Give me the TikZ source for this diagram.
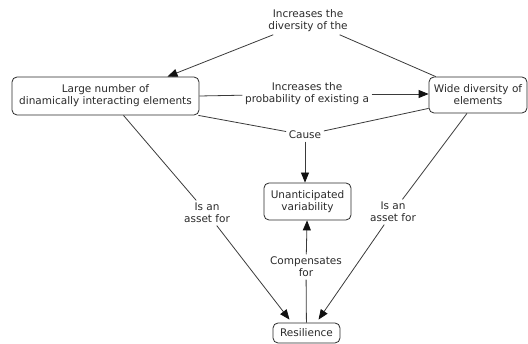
\documentclass[tikz,border=0pt]{standalone}
\usepackage{fontspec}
\setmainfont{DejaVu Sans}
\usetikzlibrary{arrows.meta}
\definecolor{ink}{HTML}{2A2A2A}
\definecolor{edge}{HTML}{3A3A3A}
\definecolor{tip}{HTML}{111111}
\tikzset{
  concept/.style={draw=ink, rounded corners=5pt, line width=0.8pt, fill=white, align=center,
    text=ink, font=\fontsize{10.5}{12}\selectfont, inner sep=2pt},
  lbl/.style={align=center, text=ink, font=\fontsize{10.5}{12}\selectfont, inner sep=2.5pt},
  conn/.style={draw=edge, line width=0.8pt},
  arr/.style={conn, -{Triangle[length=10pt,width=8pt,color=tip]}}
}
\begin{document}
\begin{tikzpicture}[x=1pt,y=-1pt]
\useasboundingbox (0,0) rectangle (528,344);
\node[concept, minimum width=187pt, minimum height=38pt] (large) at (105.5,96) {Large number of\\dinamically interacting elements};
\node[concept, minimum width=98pt, minimum height=36pt] (wide) at (478,95) {Wide diversity of\\elements};
\node[concept, minimum width=87pt, minimum height=37pt] (unant) at (307.5,201.5) {Unanticipated\\variability};
\node[concept, minimum width=67pt, minimum height=20pt] (resil) at (306.5,333) {Resilience};

\node[lbl] (inc1) at (308,21) {Increases the\\diversity of the};
\node[lbl] (inc2) at (307,94) {Increases the\\probability of existing a};
\node[lbl] (cause) at (305,135) {Cause};
\node[lbl] (asset1) at (207,213) {Is an\\asset for};
\node[lbl] (asset2) at (393,212) {Is an\\asset for};
\node[lbl] (comp) at (306,267) {Compensates\\for};

\draw[conn] (wide) -- (inc1);
\draw[arr] (inc1) -- ([xshift=62pt]large.north);
\draw[conn] (large.east) -- (inc2);
\draw[arr] (inc2) -- (inc2 -| wide.west);
\draw[conn] ([xshift=-1pt]large.south east) -- (cause);
\draw[conn] ([yshift=5pt]wide.south west) -- (cause);
\draw[arr] (cause) -- (cause |- unant.north);
\draw[conn] ([xshift=18pt]large.south) -- (asset1);
\draw[arr] (asset1) -- ([xshift=-17pt,yshift=3pt]resil.north);
\draw[conn] ([xshift=-11pt]wide.south) -- (asset2);
\draw[arr] (asset2) -- ([xshift=12pt,yshift=3pt]resil.north);
\draw[conn] (resil) -- (comp);
\draw[arr] (comp) -- (unant);
\end{tikzpicture}
\end{document}
